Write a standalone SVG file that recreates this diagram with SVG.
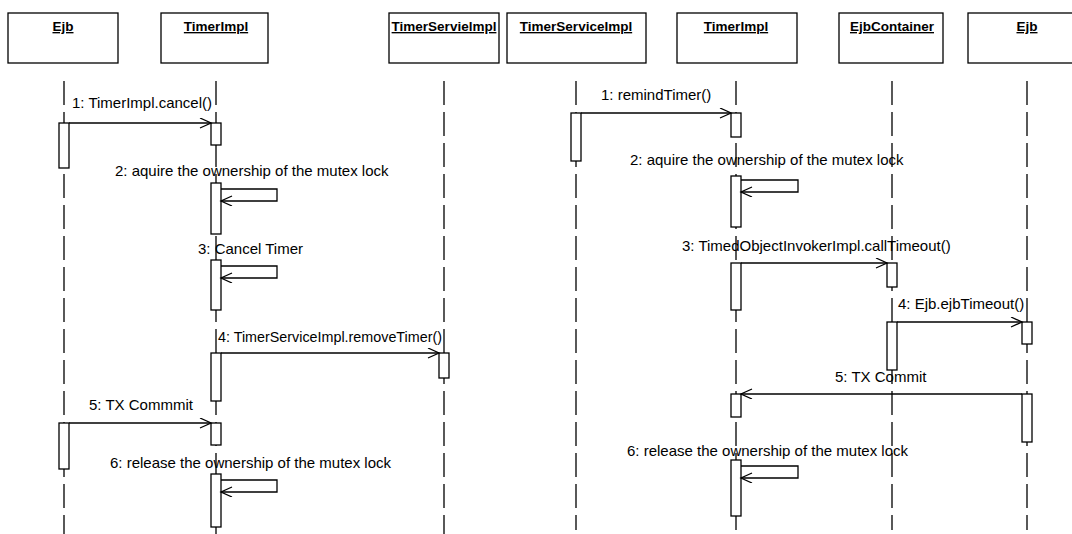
<svg xmlns="http://www.w3.org/2000/svg" width="1072" height="534" viewBox="0 0 1072 534">
<style>
.box{fill:#fff;stroke:#000;stroke-width:1.3}
.life{fill:none;stroke:#000;stroke-width:1.3;stroke-dasharray:24 7}
.act{fill:#fff;stroke:#000;stroke-width:1.3}
.msg{fill:none;stroke:#000;stroke-width:1.3;marker-end:url(#arr)}
.hdr{font-family:"Liberation Sans",Arial,sans-serif;font-size:13.5px;font-weight:bold;text-decoration:underline;text-anchor:middle;fill:#000}
.lbl{font-family:"Liberation Sans",Arial,sans-serif;font-size:15px;fill:#000}
</style>
<defs>
<marker id="arr" markerWidth="14" markerHeight="12" refX="12" refY="5" orient="auto" markerUnits="userSpaceOnUse">
<path d="M1,0 L12,5 L1,10" fill="none" stroke="#000" stroke-width="1.3"/>
</marker>
</defs>
<rect width="1072" height="534" fill="#fff"/>

<g id="left-ejb">
<rect class="box" x="8" y="13" width="110" height="50"/>
<text class="hdr" x="63" y="31">Ejb</text>
<line class="life" x1="64" y1="81" x2="64" y2="534"/>
<rect class="act" x="59" y="123" width="10" height="45"/>
<rect class="act" x="59" y="423" width="10" height="46"/>
</g>

<g id="left-timerimpl">
<rect class="box" x="161" y="13" width="107" height="50"/>
<text class="hdr" x="216" y="31">TimerImpl</text>
<line class="life" x1="216" y1="81" x2="216" y2="534"/>
<rect class="act" x="211" y="123" width="10" height="22"/>
<rect class="act" x="211" y="183" width="10" height="51"/>
<rect class="act" x="211" y="260" width="10" height="50"/>
<rect class="act" x="211" y="353" width="10" height="48"/>
<rect class="act" x="211" y="423" width="10" height="22"/>
<rect class="act" x="211" y="474" width="10" height="53"/>
</g>

<g id="left-timerservielmpl">
<rect class="box" x="389" y="13" width="110" height="50"/>
<text class="hdr" x="444" y="31">TimerServielmpl</text>
<line class="life" x1="444" y1="81" x2="444" y2="534"/>
<rect class="act" x="439" y="353" width="10" height="25"/>
</g>

<g id="right-timerserviceimpl">
<rect class="box" x="507" y="13" width="139" height="50"/>
<text class="hdr" x="576" y="31">TimerServiceImpl</text>
<line class="life" x1="576" y1="81" x2="576" y2="530"/>
<rect class="act" x="571" y="113" width="10" height="48"/>
</g>

<g id="right-timerimpl">
<rect class="box" x="677" y="13" width="120" height="50"/>
<text class="hdr" x="736" y="31">TimerImpl</text>
<line class="life" x1="736" y1="81" x2="736" y2="530"/>
<rect class="act" x="731" y="113" width="10" height="24"/>
<rect class="act" x="731" y="176" width="10" height="51"/>
<rect class="act" x="731" y="263" width="10" height="47"/>
<rect class="act" x="731" y="394" width="10" height="23"/>
<rect class="act" x="731" y="460" width="10" height="56"/>
</g>

<g id="right-ejbcontainer">
<rect class="box" x="839" y="13" width="104" height="50"/>
<text class="hdr" x="892" y="31">EjbContainer</text>
<line class="life" x1="892" y1="81" x2="892" y2="530"/>
<rect class="act" x="887" y="263" width="10" height="24"/>
<rect class="act" x="887" y="322" width="10" height="48"/>
</g>

<g id="right-ejb">
<rect class="box" x="968" y="13" width="120" height="50"/>
<text class="hdr" x="1027" y="31">Ejb</text>
<line class="life" x1="1027" y1="81" x2="1027" y2="530"/>
<rect class="act" x="1022" y="322" width="10" height="22"/>
<rect class="act" x="1022" y="394" width="10" height="48"/>
</g>

<g id="connectors">
<path class="msg" d="M69,123 H211"/>
<text class="lbl" x="72" y="108">1: TimerImpl.cancel()</text>
<path class="msg" d="M221,189 H277 V201 H221"/>
<text class="lbl" x="115" y="176">2: aquire the ownership of the mutex lock</text>
<path class="msg" d="M221,266 H277 V278 H221"/>
<text class="lbl" x="198" y="254">3: Cancel Timer</text>
<path class="msg" d="M221,353 H439"/>
<text class="lbl" x="218" y="342" textLength="224" lengthAdjust="spacingAndGlyphs">4: TimerServiceImpl.removeTimer()</text>
<path class="msg" d="M69,423 H211"/>
<text class="lbl" x="89" y="410">5: TX Commmit</text>
<path class="msg" d="M221,480 H277 V492 H221"/>
<text class="lbl" x="110" y="468">6: release the ownership of the mutex lock</text>

<path class="msg" d="M581,113 H731"/>
<text class="lbl" x="601" y="100">1: remindTimer()</text>
<path class="msg" d="M741,180 H798 V192 H741"/>
<text class="lbl" x="630" y="165">2: aquire the ownership of the mutex lock</text>
<path class="msg" d="M741,263 H887"/>
<text class="lbl" x="682" y="251">3: TimedObjectInvokerImpl.callTimeout()</text>
<path class="msg" d="M897,322 H1022"/>
<text class="lbl" x="898" y="309">4: Ejb.ejbTimeout()</text>
<path class="msg" d="M1022,394 H741"/>
<text class="lbl" x="835" y="382">5: TX Commit</text>
<path class="msg" d="M741,466 H798 V478 H741"/>
<text class="lbl" x="627" y="456">6: release the ownership of the mutex lock</text>
</g>
</svg>
